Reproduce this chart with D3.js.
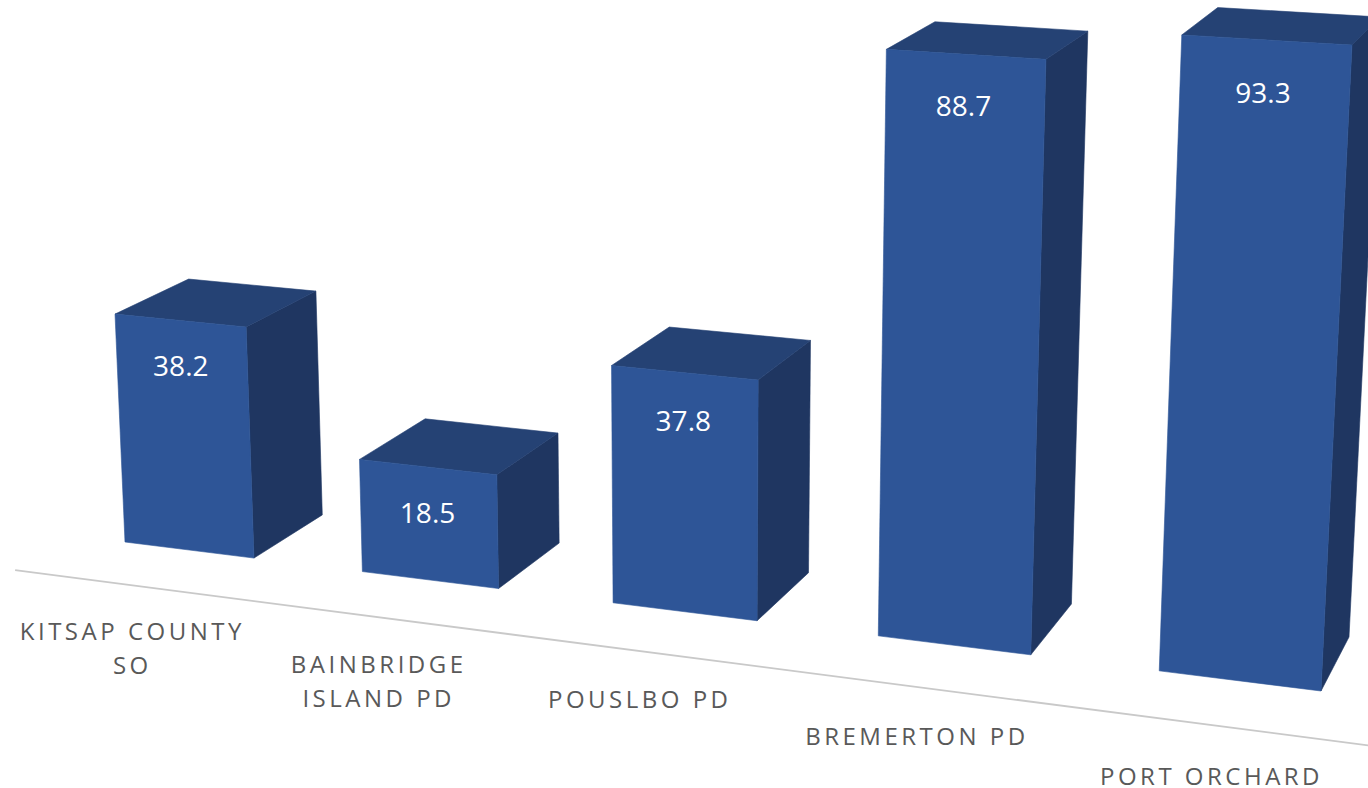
<!DOCTYPE html>
<html><head><meta charset="utf-8">
<script src="https://cdn.jsdelivr.net/npm/d3@7"></script>
<style>html,body{margin:0;background:#fff;overflow:hidden}svg{display:block}</style>
</head><body><svg id="c" width="1368" height="788"></svg>
<script>
const categories = ["KITSAP COUNTY|SO","BAINBRIDGE|ISLAND PD","POUSLBO PD","BREMERTON PD","PORT ORCHARD"];
const values = [38.2,18.5,37.8,88.7,93.3];

// Perspective camera: where the front and back planes of the plot box land on screen
const frontPlane = {bl:[125,542],br:[1321,691],tr:[1352,45],tl:[100,-29]};
const backPlane  = {bl:[197,500],br:[1349,637],tr:[1380,17],tl:[176,-53]};
const colors = {front:"#2e5597",top:"#254274",side:"#1f3661",axis:"#c9c9c9",label:"#595959"};

function homography(q){
  const [x0,y0]=q.bl,[x1,y1]=q.br,[x2,y2]=q.tr,[x3,y3]=q.tl;
  const dx1=x1-x2,dx2=x3-x2,sx=x0-x1+x2-x3,dy1=y1-y2,dy2=y3-y2,sy=y0-y1+y2-y3;
  const d=dx1*dy2-dx2*dy1;
  const g=(sx*dy2-dx2*sy)/d,h=(dx1*sy-sx*dy1)/d;
  const a=x1-x0+g*x1,b=x3-x0+h*x3,c=x0,e=y1-y0+g*y1,f=y3-y0+h*y3,k=y0;
  return (u,v)=>{const w=g*u+h*v+1;return [(a*u+b*v+c)/w,(e*u+f*v+k)/w];};
}
const hf=homography(frontPlane),hb=homography(backPlane);
function project(u,val,depth){
  const v=y(val),p=hf(u,v),q=hb(u,v);
  return [p[0]+(q[0]-p[0])*depth,p[1]+(q[1]-p[1])*depth];
}
const x=d3.scaleBand().domain(categories).range([0,1]).paddingInner(0.45).paddingOuter(0);
const y=d3.scaleLinear().domain([0,93.3]).range([0,1]);
const line=d3.line();
const svg=d3.select("#c");

// baseline
svg.append("path")
  .attr("d",line([project(-0.108,-7.3,0),project(1.045,-7.3,0)]))
  .attr("fill","none").attr("stroke",colors.axis).attr("stroke-width",1.8);

const data=categories.map((c,i)=>({c,v:values[i]}));
const bars=svg.selectAll("g.bar").data(data).join("g").attr("class","bar");
const L=d=>x(d.c),R=d=>x(d.c)+x.bandwidth();
const face=pts=>d=>line(pts(d))+"Z";
bars.append("path").attr("fill",colors.side).attr("stroke",colors.side).attr("stroke-width",0.6)
  .attr("d",face(d=>[project(R(d),0,0),project(R(d),0,1),project(R(d),d.v,1),project(R(d),d.v,0)]));
bars.append("path").attr("fill",colors.top).attr("stroke",colors.top).attr("stroke-width",0.6)
  .attr("d",face(d=>[project(L(d),d.v,0),project(L(d),d.v,1),project(R(d),d.v,1),project(R(d),d.v,0)]));
bars.append("path").attr("fill",colors.front).attr("stroke",colors.front).attr("stroke-width",0.6)
  .attr("d",face(d=>[project(L(d),0,0),project(R(d),0,0),project(R(d),d.v,0),project(L(d),d.v,0)]));

// value labels
bars.append("text").text(d=>d.v.toFixed(1))
  .attr("x",d=>project(L(d)+x.bandwidth()/2,d.v-7.3,0)[0]-1)
  .attr("y",d=>project(L(d)+x.bandwidth()/2,d.v-7.3,0)[1])
  .attr("text-anchor","middle").attr("dominant-baseline","central")
  .attr("font-family","'Open Sans'").attr("font-size",28).attr("fill","#fff");

// category labels
svg.selectAll("text.cat").data(data).join("text").attr("class","cat")
  .attr("text-anchor","middle").attr("font-family","'Open Sans'").attr("font-size",24)
  .attr("letter-spacing",3.5).attr("fill",colors.label)
  .each(function(d){
    const p=project(L(d)+x.bandwidth()/2,-7.5,-0.85);
    d3.select(this).selectAll("tspan").data(d.c.split("|")).join("tspan")
      .attr("x",p[0]+1).attr("y",(t,i)=>p[1]+i*34+8.5).text(t=>t);
  });
</script></body></html>
